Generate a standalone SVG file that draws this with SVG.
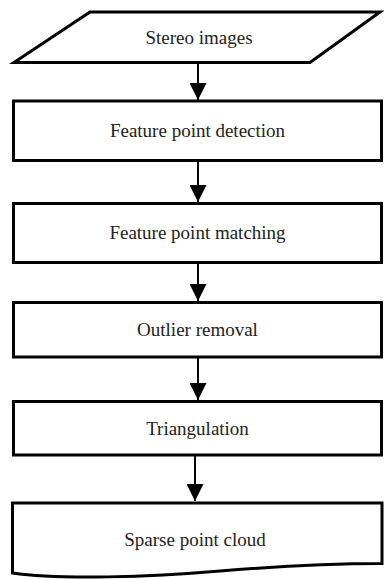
<svg xmlns="http://www.w3.org/2000/svg" width="384" height="579" viewBox="0 0 384 579">
<defs>
<style>
.shape{fill:#fff;stroke:#000;stroke-width:3;stroke-linejoin:miter}
.lbl{font-family:"Liberation Serif","Times New Roman",serif;font-size:19px;fill:#222;text-anchor:middle}
.conn{stroke:#000;stroke-width:2;fill:none}
</style>
<marker id="ah" markerWidth="17" markerHeight="17" viewBox="0 0 17 17" refX="17" refY="8.5" orient="auto" markerUnits="userSpaceOnUse">
<path d="M0,0 L17,8.5 L0,17 Z" fill="#000"/>
</marker>
</defs>
<rect width="384" height="579" fill="#fff"/>
<g id="n1">
<polygon class="shape" points="90,12 380,12 310,62.5 14,62.5"/>
<text class="lbl" x="199" y="44">Stereo images</text>
</g>
<g id="n2">
<rect class="shape" x="13.5" y="101" width="368" height="59.5"/>
<text class="lbl" x="197.5" y="137">Feature point detection</text>
</g>
<g id="n3">
<rect class="shape" x="13.5" y="203.5" width="368" height="59"/>
<text class="lbl" x="197.5" y="239">Feature point matching</text>
</g>
<g id="n4">
<rect class="shape" x="13.5" y="302.5" width="368" height="54.5"/>
<text class="lbl" x="197.5" y="336">Outlier removal</text>
</g>
<g id="n5">
<rect class="shape" x="13.5" y="401.5" width="368" height="53.5"/>
<text class="lbl" x="197.5" y="435">Triangulation</text>
</g>
<g id="n6">
<path class="shape" d="M12.5,503 H382 V563.5 C330,563.5 280,566 220,571 C150,577 60,580 12.5,573 Z"/>
<text class="lbl" x="195" y="546">Sparse point cloud</text>
</g>
<g id="connectors">
<line class="conn" x1="198" y1="63" x2="198" y2="100" marker-end="url(#ah)"/>
<line class="conn" x1="198" y1="161" x2="198" y2="202" marker-end="url(#ah)"/>
<line class="conn" x1="198" y1="263" x2="198" y2="301" marker-end="url(#ah)"/>
<line class="conn" x1="198" y1="357" x2="198" y2="400" marker-end="url(#ah)"/>
<line class="conn" x1="195" y1="455" x2="195" y2="501" marker-end="url(#ah)"/>
</g>
</svg>
